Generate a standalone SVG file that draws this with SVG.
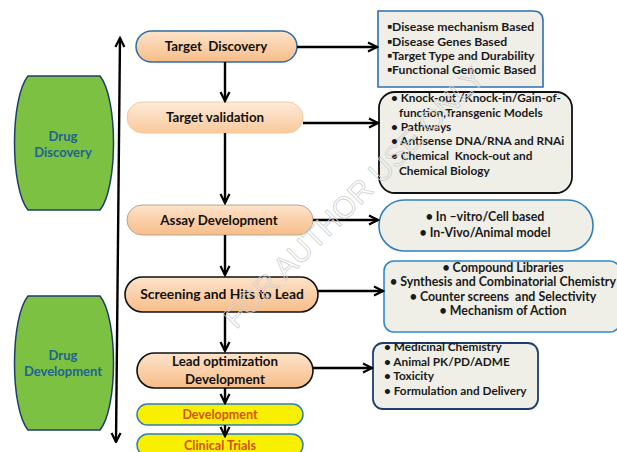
<svg xmlns="http://www.w3.org/2000/svg" width="617" height="452" viewBox="0 0 617 452">
<defs>
<linearGradient id="peach" x1="0" y1="0" x2="0" y2="1">
<stop offset="0" stop-color="#fde3ca"/>
<stop offset="1" stop-color="#f7bd88"/>
</linearGradient>
<linearGradient id="peachL" x1="0" y1="0" x2="0" y2="1">
<stop offset="0" stop-color="#fdebd9"/>
<stop offset="1" stop-color="#f9c99c"/>
</linearGradient>
<marker id="ah" viewBox="0 0 12 12" refX="10.5" refY="6" markerWidth="12" markerHeight="12" markerUnits="userSpaceOnUse" orient="auto-start-reverse">
<path d="M1.5,1.5 L10.5,6 L1.5,10.5" fill="none" stroke="#000" stroke-width="2.2" stroke-linejoin="miter"/>
</marker>
</defs>
<style>
text{font-family:Lato,"Open Sans","Liberation Sans",sans-serif;font-weight:bold;white-space:pre}
.lbl{font-size:13.3px;fill:#111;text-anchor:middle}
.grn{font-size:13px;fill:#1f6391;text-anchor:middle}
.red{font-size:12.5px;fill:#d6501c;text-anchor:middle}
.li{font-size:11.8px;fill:#1a1a1a}
.lc{font-size:12.4px;fill:#1a1a1a;text-anchor:middle}
.conn{stroke:#000;stroke-width:2.4;fill:none}
.box{fill:#efefe8}
.wm{font-family:"Liberation Sans",sans-serif;font-weight:normal;font-size:30px;fill:none;stroke:#cfcfcf;stroke-width:0.8}
</style>
<rect width="617" height="452" fill="#fff"/>

<g id="drug-discovery">
<path d="M28,76 L100,76 C118,98 118,188 100,210 L28,210 C10,188 10,98 28,76 Z" fill="#7cc142" stroke="#1f3d6b" stroke-width="1.5"/>
<text class="grn" x="63" y="141">Drug</text>
<text class="grn" x="63" y="157">Discovery</text>
</g>
<g id="drug-development">
<path d="M28,296 L100,296 C118,318 118,408 100,430 L28,430 C10,408 10,318 28,296 Z" fill="#7cc142" stroke="#1f3d6b" stroke-width="1.5"/>
<text class="grn" x="63" y="360">Drug</text>
<text class="grn" x="63" y="376">Development</text>
</g>

<g id="target-discovery">
<rect x="136" y="31" width="161" height="31" rx="15.5" fill="url(#peach)" stroke="#2e6da4" stroke-width="1.5"/>
<text class="lbl" x="216" y="51">Target  Discovery</text>
</g>
<g id="target-validation">
<rect x="127" y="102" width="176" height="31" rx="15.5" fill="url(#peachL)" stroke="#f3c9a0" stroke-width="1"/>
<text class="lbl" x="215" y="122">Target validation</text>
</g>
<g id="assay-development">
<rect x="127" y="205" width="186" height="30" rx="15" fill="url(#peach)" stroke="#b9a58f" stroke-width="1"/>
<text class="lbl" x="219" y="225">Assay Development</text>
</g>
<g id="screening">
<rect x="125" y="277" width="193" height="35" rx="17.5" fill="url(#peach)" stroke="#111" stroke-width="1.6"/>
<text class="lbl" x="222" y="299" style="font-size:13.8px">Screening and Hits to Lead</text>
</g>
<g id="lead-optimization">
<rect x="137" y="353" width="176" height="35" rx="17.5" fill="url(#peach)" stroke="#111" stroke-width="1.6"/>
<text class="lbl" x="225" y="366">Lead optimization</text>
<text class="lbl" x="225" y="384">Development</text>
</g>
<g id="development">
<rect x="137" y="404" width="166" height="21" rx="10.5" fill="#f8f000" stroke="#2e7fb8" stroke-width="1.5"/>
<text class="red" x="220" y="419">Development</text>
</g>
<g id="clinical-trials">
<rect x="137" y="434" width="166" height="22" rx="11" fill="#f8f000" stroke="#2e7fb8" stroke-width="1.5"/>
<text class="red" x="220" y="450">Clinical Trials</text>
</g>

<g id="box-target-discovery">
<path d="M378,11 L533,11 Q543,11 543,21 L543,87 L378,87 Z" class="box" stroke="#2f6fb0" stroke-width="1.6"/>
<text class="li" x="387" y="31" style="font-size:12.2px">▪Disease mechanism Based</text>
<text class="li" x="387" y="46" style="font-size:12.2px">▪Disease Genes Based</text>
<text class="li" x="387" y="60" style="font-size:12.2px">▪Target Type and Durability</text>
<text class="li" x="387" y="74" style="font-size:12.2px">▪Functional Genomic Based</text>
</g>
<g id="box-target-validation">
<rect x="379" y="92" width="193" height="101" rx="16" class="box" stroke="#111" stroke-width="1.8"/>
<text class="li" x="391" y="102">• Knock-out /Knock-in/Gain-of-</text>
<text class="li" x="399" y="117">function,Transgenic Models</text>
<text class="li" x="391" y="131">• Pathways</text>
<text class="li" x="391" y="145">• Antisense DNA/RNA and RNAi</text>
<text class="li" x="391" y="160">• Chemical  Knock-out and</text>
<text class="li" x="399" y="175">Chemical Biology</text>
</g>
<g id="box-assay">
<rect x="379" y="200" width="214" height="51" rx="25" class="box" stroke="#2f7fc0" stroke-width="1.6"/>
<text class="lc" x="485" y="221">• In –vitro/Cell based</text>
<text class="lc" x="485" y="237">• In-Vivo/Animal model</text>
</g>
<g id="box-screening">
<rect x="384" y="261" width="236" height="71" rx="10" class="box" stroke="#2f8ad0" stroke-width="1.6"/>
<text class="lc" x="503" y="272">• Compound Libraries</text>
<text class="lc" x="503" y="286">• Synthesis and Combinatorial Chemistry</text>
<text class="lc" x="503" y="301">• Counter screens  and Selectivity</text>
<text class="lc" x="503" y="315">• Mechanism of Action</text>
</g>
<g id="box-lead">
<rect x="373" y="343" width="165" height="66" rx="10" class="box" stroke="#1f3d6b" stroke-width="1.8"/>
<text class="li" x="384" y="351">• Medicinal Chemistry</text>
<text class="li" x="384" y="366">• Animal PK/PD/ADME</text>
<text class="li" x="384" y="380">• Toxicity</text>
<text class="li" x="384" y="395">• Formulation and Delivery</text>
</g>

<g id="connectors">
<line class="conn" x1="120" y1="38" x2="116" y2="442" marker-start="url(#ah)" marker-end="url(#ah)"/>
<line class="conn" x1="225" y1="62" x2="225" y2="101" marker-end="url(#ah)"/>
<line class="conn" x1="225" y1="133" x2="225" y2="203" marker-end="url(#ah)"/>
<line class="conn" x1="225" y1="235" x2="225" y2="275" marker-end="url(#ah)"/>
<line class="conn" x1="225" y1="312" x2="225" y2="351" marker-end="url(#ah)"/>
<line class="conn" x1="225" y1="388" x2="225" y2="403" marker-end="url(#ah)"/>
<line class="conn" x1="225" y1="425" x2="225" y2="436" marker-end="url(#ah)"/>
<line class="conn" x1="297" y1="47" x2="377" y2="47" marker-end="url(#ah)"/>
<line class="conn" x1="303" y1="123" x2="378" y2="123" marker-end="url(#ah)"/>
<line class="conn" x1="313" y1="220" x2="378" y2="220" marker-end="url(#ah)"/>
<line class="conn" x1="318" y1="291" x2="383" y2="291" marker-end="url(#ah)"/>
<line class="conn" x1="313" y1="368" x2="372" y2="368" marker-end="url(#ah)"/>
</g>

<text class="wm" transform="translate(236,330) rotate(-45)">FOR AUTHOR USE ONLY</text>
</svg>
